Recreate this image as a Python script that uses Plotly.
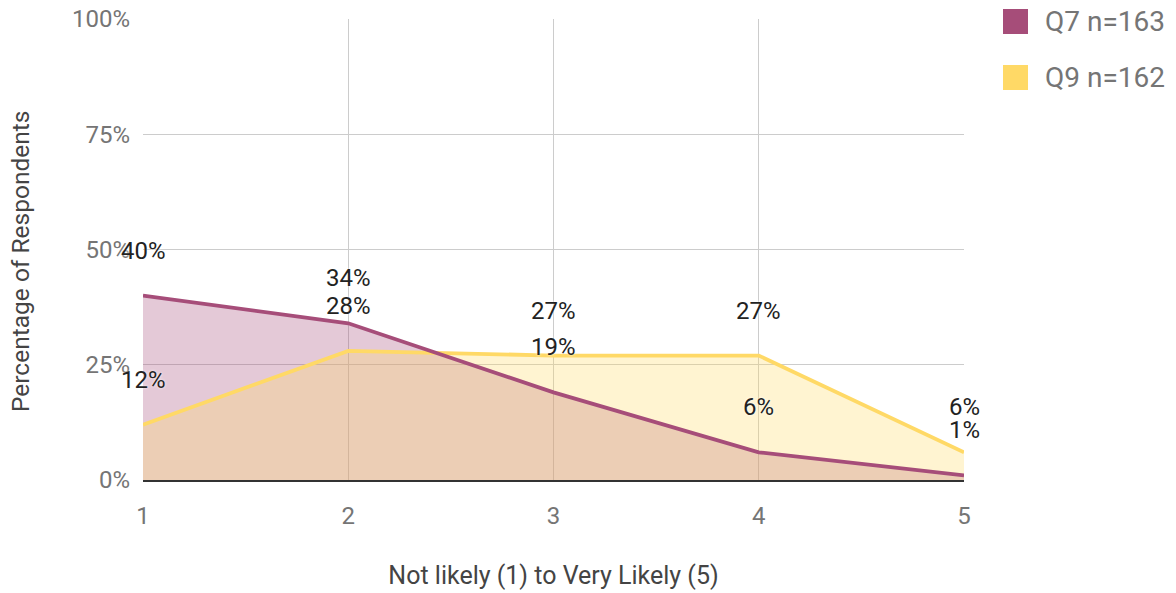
import plotly.graph_objects as go

# Likelihood scale (1 = not likely, 5 = very likely)
scale = [1, 2, 3, 4, 5]

# Share of respondents per scale point, in percent
q7_pct = [40, 34, 19, 6, 1]
q9_pct = [12, 28, 27, 27, 6]

series_names = ["Q7 n=163", "Q9 n=162"]
line_colors = ["#a64d79", "#ffd966"]
fill_colors = ["rgba(166,77,121,0.3)", "rgba(255,217,102,0.3)"]

y_ticks = [0, 25, 50, 75, 100]
y_tick_text = [f"{v}%" for v in y_ticks]

FONT = "Roboto, 'Open Sans', sans-serif"

W, H = 1176, 593
M_L, M_R, M_T, M_B = 143, 212, 19, 113
PLOT_W = W - M_L - M_R
PLOT_H = H - M_T - M_B


def paper_x(px):
    return (px - M_L) / PLOT_W


def paper_y(py):
    return (H - M_B - py) / PLOT_H


fig = go.Figure()

series = [q7_pct, q9_pct]

# Translucent area fills first, so every line sits on top of them
for name, vals, fc in zip(series_names, series, fill_colors):
    fig.add_trace(go.Scatter(
        x=scale, y=vals, mode="lines", name=name,
        line=dict(width=0, color=fc),
        fill="tozeroy", fillcolor=fc,
        showlegend=False, hoverinfo="skip",
    ))

# Series lines (Q9 first so Q7 is drawn above it)
for name, vals, lc in reversed(list(zip(series_names, series, line_colors))):
    fig.add_trace(go.Scatter(
        x=scale, y=vals, mode="lines", name=name,
        line=dict(color=lc, width=3.8),
        showlegend=False, hoverinfo="skip",
    ))

# Value labels above each point
for vals in series:
    for xv, yv in zip(scale, vals):
        fig.add_annotation(
            x=xv, y=yv, text=f"{yv}%", showarrow=False,
            xanchor="center", yanchor="middle", yshift=45,
            font=dict(family=FONT, size=24, color="#222222",
                      shadow="0px 0px 3px white"),
        )

# Legend: large square swatches with labels to the right of the plot
for i, (name, lc) in enumerate(zip(series_names, line_colors)):
    top = 9 + i * 56
    fig.add_shape(
        type="rect", xref="paper", yref="paper",
        x0=paper_x(1003), x1=paper_x(1028),
        y0=paper_y(top + 25), y1=paper_y(top),
        fillcolor=lc, line=dict(width=0), layer="above",
    )
    fig.add_annotation(
        xref="paper", yref="paper", x=paper_x(1043), y=paper_y(top + 12.5),
        text=name, showarrow=False, xanchor="left", yanchor="middle",
        font=dict(family=FONT, size=28, color="#757575"),
    )

# Y-axis title
fig.add_annotation(
    xref="paper", yref="paper", x=paper_x(20), y=paper_y(262),
    text="Percentage of Respondents", showarrow=False, textangle=-90,
    xanchor="center", yanchor="middle",
    font=dict(family=FONT, size=24.5, color="#444444"),
)

fig.update_layout(
    width=W, height=H,
    margin=dict(l=M_L, r=M_R, t=M_T, b=M_B, autoexpand=False),
    plot_bgcolor="white", paper_bgcolor="white",
    font=dict(family=FONT, size=24, color="#757575"),
    showlegend=False,
    xaxis=dict(
        range=[1, 5], tickvals=scale, ticktext=[str(s) for s in scale],
        showgrid=True, gridcolor="#cccccc", gridwidth=1.3,
        zeroline=False, showline=True, linecolor="#333333", linewidth=1.5,
        layer="below traces",
        ticks="", ticklabelstandoff=13,
        tickfont=dict(size=24, color="#757575"),
        title=dict(text="Not likely (1) to Very Likely (5)", standoff=38,
                   font=dict(size=25, color="#444444")),
    ),
    yaxis=dict(
        range=[0, 100], tickvals=y_ticks, ticktext=y_tick_text,
        showgrid=True, gridcolor="#cccccc", gridwidth=1.3,
        zeroline=False, showline=False, ticks="", ticklabelstandoff=12,
        tickfont=dict(size=24, color="#757575"),
    ),
)

fig.write_html("out.html")
